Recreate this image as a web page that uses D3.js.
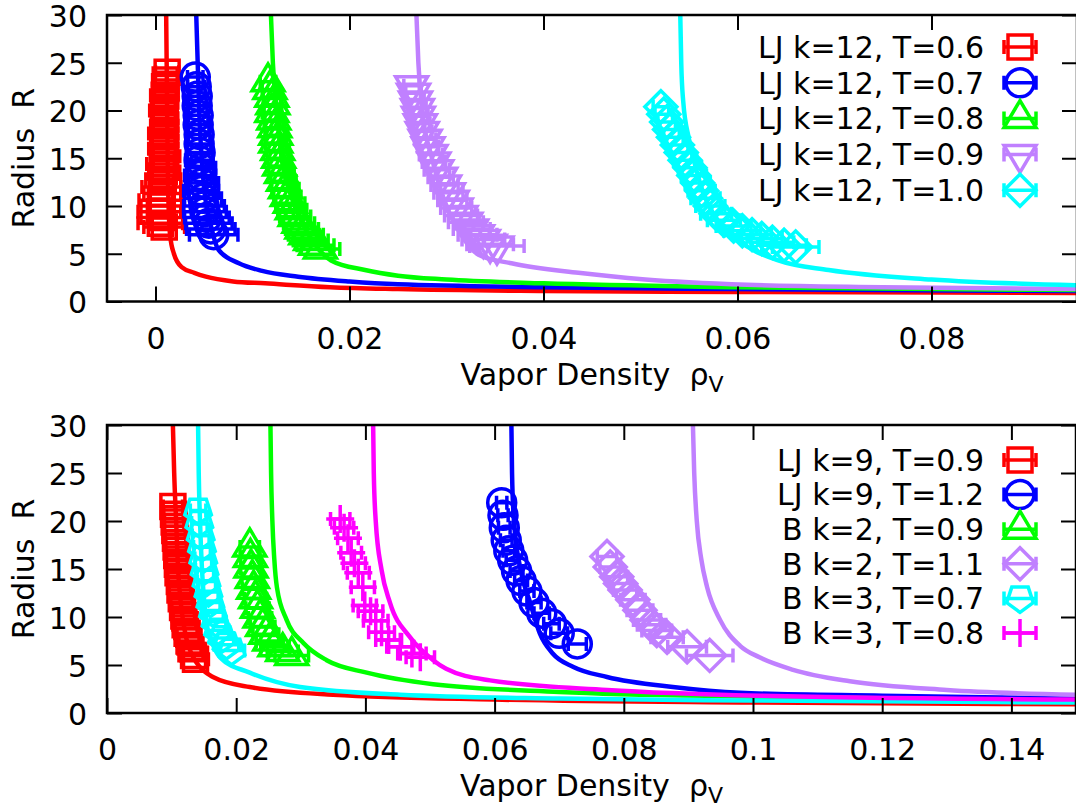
<!DOCTYPE html>
<html>
<head>
<meta charset="utf-8">
<script src="https://cdn.jsdelivr.net/npm/d3@7"></script>
<style>
  body { margin: 0; background: #fff; }
  text { font-family: "DejaVu Sans", sans-serif; }
</style>
</head>
<body>
<div id="chart"></div>
<script>
// ---- top panel data: [rho, R, rho error] ----
const ljk12T06 = [[0.0012,24.0,0.0012],[0.0010,23.2,0.0013],[0.0011,22.4,0.0012],[0.0009,21.6,0.0014],
  [0.0010,20.8,0.0013],[0.0008,20.0,0.0014],[0.0010,19.2,0.0013],[0.0009,18.4,0.0014],[0.0008,17.6,0.0015],
  [0.0009,16.8,0.0014],[0.0008,16.0,0.0015],[0.0010,15.2,0.0015],[0.0007,14.4,0.0016],[0.0009,13.6,0.0016],
  [0.0008,12.8,0.0018],[0.0006,12.0,0.0020],[0.0007,11.3,0.0019],[0.0005,10.6,0.0022],[0.0006,10.0,0.0021],
  [0.0004,9.4,0.0022],[0.0007,8.8,0.0022],[0.0005,8.2,0.0023],[0.0009,7.8,0.0021]];
const ljk12T07 = [[0.0041,23.5,0.0008],[0.0042,22.5,0.0009],[0.0043,21.5,0.0009],[0.0043,20.5,0.0010],
  [0.0044,19.5,0.0010],[0.0044,18.5,0.0011],[0.0045,17.5,0.0011],[0.0045,16.5,0.0012],[0.0046,15.6,0.0013],
  [0.0045,14.8,0.0014],[0.0047,14.0,0.0015],[0.0046,13.2,0.0016],[0.0048,12.4,0.0017],[0.0047,11.6,0.0018],
  [0.0049,10.8,0.0019],[0.0050,10.0,0.0021],[0.0051,9.4,0.0022],[0.0053,8.8,0.0023],[0.0055,8.2,0.0024],
  [0.0057,7.6,0.0025],[0.0060,7.0,0.0025]];
const ljk12T08 = [[0.0116,23.0,0.0008],[0.0118,22.2,0.0008],[0.0120,21.4,0.0009],[0.0121,20.6,0.0009],
  [0.0120,19.8,0.0010],[0.0122,19.0,0.0010],[0.0123,18.2,0.0010],[0.0124,17.4,0.0011],[0.0124,16.6,0.0011],
  [0.0126,15.8,0.0012],[0.0127,15.0,0.0012],[0.0128,14.2,0.0012],[0.0130,13.4,0.0013],[0.0132,12.6,0.0013],
  [0.0134,11.8,0.0014],[0.0136,11.0,0.0014],[0.0139,10.3,0.0015],[0.0141,9.6,0.0015],[0.0144,8.9,0.0016],
  [0.0148,8.2,0.0016],[0.0151,7.6,0.0017],[0.0155,7.0,0.0018],[0.0160,6.4,0.0018],[0.0165,5.9,0.0019],
  [0.0170,5.5,0.0020]];
const ljk12T09 = [[0.0264,22.6,0.0008],[0.0266,21.8,0.0008],[0.0268,21.0,0.0009],[0.0270,20.2,0.0009],
  [0.0271,19.4,0.0010],[0.0273,18.6,0.0010],[0.0275,17.8,0.0010],[0.0278,17.0,0.0011],[0.0281,16.2,0.0011],
  [0.0284,15.4,0.0012],[0.0287,14.6,0.0012],[0.0290,13.8,0.0013],[0.0294,13.0,0.0013],[0.0298,12.2,0.0014],
  [0.0302,11.4,0.0015],[0.0306,10.6,0.0015],[0.0310,9.8,0.0016],[0.0315,9.0,0.0017],[0.0320,8.3,0.0018],
  [0.0326,7.6,0.0019],[0.0332,7.0,0.0020],[0.0338,6.5,0.0022],[0.0345,6.0,0.0024],[0.0352,5.8,0.0028]];
const ljk12T10 = [[0.0521,20.4,0.0008],[0.0524,19.6,0.0009],[0.0527,18.8,0.0009],[0.0530,18.0,0.0010],
  [0.0534,17.2,0.0010],[0.0538,16.4,0.0011],[0.0542,15.6,0.0011],[0.0546,14.8,0.0012],[0.0551,14.0,0.0012],
  [0.0555,13.2,0.0013],[0.0559,12.4,0.0013],[0.0563,11.6,0.0014],[0.0567,10.8,0.0015],[0.0572,10.0,0.0015],
  [0.0578,9.2,0.0016],[0.0586,8.5,0.0017],[0.0596,7.9,0.0018],[0.0605,7.4,0.0019],[0.0615,7.0,0.0020],
  [0.0625,6.6,0.0021],[0.0636,6.2,0.0022],[0.0648,5.9,0.0023],[0.0660,5.7,0.0024]];

// fitted curves: [rho, R]
const ljk12T06Fit = [[0.0011,30],[0.0012,20],[0.0013,12],[0.0015,7],[0.0019,5],[0.0027,3.6],[0.0040,3.0],
  [0.0052,2.6],[0.008,2.1],[0.0113,1.9],[0.018,1.5],[0.025,1.3],[0.04,1.1],[0.06,1.0],[0.095,0.9]];
const ljk12T07Fit = [[0.0042,30],[0.0045,20],[0.0050,12],[0.0057,8],[0.0065,5.4],[0.0086,4.0],[0.011,3.2],
  [0.0147,2.6],[0.020,2.1],[0.025,1.8],[0.04,1.5],[0.06,1.3],[0.095,1.1]];
const ljk12T08Fit = [[0.0119,30],[0.0121,25],[0.0125,20],[0.013,15],[0.014,11],[0.0155,7.5],[0.0168,5.5],
  [0.0181,4.3],[0.0216,3.3],[0.025,2.7],[0.03,2.3],[0.04,1.9],[0.06,1.5],[0.095,1.2]];
const ljk12T09Fit = [[0.0269,30],[0.0271,25],[0.0275,20],[0.0285,15],[0.030,10],[0.0315,7],[0.0333,4.9],
  [0.0367,4.0],[0.0436,3.0],[0.0505,2.3],[0.061,1.75],[0.075,1.5],[0.095,1.3]];
const ljk12T10Fit = [[0.0541,30],[0.0542,25],[0.0544,21],[0.055,17],[0.0557,14],[0.0565,11.3],[0.0577,8.9],
  [0.0601,6.4],[0.0642,4.3],[0.0694,3.3],[0.08,2.3],[0.095,1.7]];

// ---- bottom panel data ----
const ljk9T09 = [[0.0102,21.5,0.0015],[0.0103,20.7,0.0015],[0.0104,19.9,0.0015],[0.0105,19.0,0.0016],
  [0.0106,18.2,0.0016],[0.0107,17.3,0.0016],[0.0108,16.4,0.0016],[0.0109,15.5,0.0017],[0.0110,14.6,0.0017],
  [0.0112,13.7,0.0017],[0.0113,12.8,0.0017],[0.0115,11.9,0.0018],[0.0117,11.0,0.0018],[0.0119,10.1,0.0018],
  [0.0121,9.2,0.0019],[0.0124,8.3,0.0019],[0.0127,7.5,0.0019],[0.0130,6.7,0.0020],[0.0134,6.0,0.0020],
  [0.0137,5.6,0.0020]];
const ljk9T12 = [[0.0611,21.9,0.0008],[0.0613,20.6,0.0008],[0.0615,19.3,0.0009],[0.0618,18.0,0.0009],
  [0.0622,16.9,0.0009],[0.0628,15.9,0.0010],[0.0634,14.8,0.0010],[0.0641,13.8,0.0010],[0.0650,12.7,0.0011],
  [0.0661,11.5,0.0011],[0.0673,10.4,0.0012],[0.0688,9.3,0.0012],[0.0700,8.3,0.0013],[0.0728,7.2,0.0014]];
const bk2T09 = [[0.0221,17.3,0.0015],[0.0222,16.2,0.0015],[0.0223,15.1,0.0016],[0.0225,14.0,0.0016],
  [0.0227,12.9,0.0017],[0.0230,11.9,0.0017],[0.0233,10.9,0.0018],[0.0237,9.9,0.0018],[0.0241,9.0,0.0019],
  [0.0246,8.2,0.0020],[0.0252,7.5,0.0021],[0.0260,6.9,0.0022],[0.0272,6.4,0.0024],[0.0286,6.0,0.0026]];
const bk2T11 = [[0.0774,16.3,0.0015],[0.0779,15.2,0.0016],[0.0789,14.2,0.0017],[0.0795,13.5,0.0017],
  [0.0802,12.8,0.0018],[0.0814,11.8,0.0019],[0.0825,10.7,0.0020],[0.0836,9.7,0.0021],[0.0843,9.2,0.0022],
  [0.0851,8.6,0.0023],[0.0867,7.9,0.0025],[0.0898,6.9,0.0030],[0.0933,6.0,0.0036]];
const bk3T07 = [[0.0141,21.1,0.0012],[0.0143,19.8,0.0012],[0.0145,18.5,0.0013],[0.0147,17.3,0.0013],
  [0.0149,16.1,0.0013],[0.0151,14.9,0.0014],[0.0154,13.7,0.0014],[0.0157,12.6,0.0015],[0.0160,11.5,0.0015],
  [0.0164,10.5,0.0016],[0.0168,9.5,0.0016],[0.0172,8.6,0.0017],[0.0178,7.8,0.0018],[0.0185,7.1,0.0019],
  [0.0193,6.5,0.0020]];
const bk3T08 = [[0.0361,20.2,0.0015],[0.0367,19.3,0.0015],[0.0373,18.2,0.0016],[0.0378,16.7,0.0016],
  [0.0383,15.6,0.0017],[0.0389,14.6,0.0017],[0.0396,13.1,0.0018],[0.0399,11.2,0.0018],[0.0408,10.6,0.0019],
  [0.0416,9.6,0.0019],[0.0425,8.4,0.0020],[0.0436,7.6,0.0020],[0.0454,6.9,0.0021],[0.0472,6.2,0.0022],
  [0.0485,5.8,0.0022]];

const ljk9T09Fit = [[0.0102,30],[0.0104,25],[0.0107,20],[0.011,15],[0.0115,11],[0.0122,8],[0.013,6.3],
  [0.0139,5.2],[0.0164,3.75],[0.0221,2.7],[0.035,1.9],[0.06,1.4],[0.1,1.1],[0.15,0.9]];
const ljk9T12Fit = [[0.0626,30],[0.0627,25],[0.063,20],[0.064,15],[0.0655,11.5],[0.067,8.3],[0.069,6.2],
  [0.0722,4.8],[0.0774,3.75],[0.0876,2.7],[0.098,2.1],[0.12,1.8],[0.15,1.5]];
const bk2T09Fit = [[0.0253,30],[0.0254,25],[0.0256,20],[0.0259,16],[0.0263,13.1],[0.0278,9.7],[0.0304,7.3],
  [0.034,5.5],[0.0402,4.2],[0.0505,3.0],[0.07,2.2],[0.1,1.7],[0.15,1.3]];
const bk2T11Fit = [[0.0907,30],[0.0909,25],[0.0913,20],[0.092,16],[0.0929,13.1],[0.0949,9.7],[0.098,7.0],
  [0.101,5.8],[0.1062,4.5],[0.115,3.3],[0.13,2.4],[0.15,1.9]];
const bk3T07Fit = [[0.0141,30],[0.0142,25],[0.0144,20],[0.0147,15],[0.015,12],[0.0155,9],[0.0163,7.3],
  [0.0175,5.8],[0.0221,4.2],[0.0299,2.7],[0.0454,1.9],[0.07,1.5],[0.1,1.3],[0.15,1.1]];
const bk3T08Fit = [[0.0412,30],[0.0413,25],[0.0416,20],[0.0425,14.9],[0.0438,11.5],[0.0469,7.9],[0.0505,5.5],
  [0.0525,4.6],[0.0593,3.4],[0.0774,2.4],[0.101,1.8],[0.15,1.4]];

const topLabels = ["LJ k=12, T=0.6", "LJ k=12, T=0.7", "LJ k=12, T=0.8", "LJ k=12, T=0.9", "LJ k=12, T=1.0"];
const bottomLabels = ["LJ k=9, T=0.9", "LJ k=9, T=1.2", "B k=2, T=0.9", "B k=2, T=1.1", "B k=3, T=0.7", "B k=3, T=0.8"];
const topTicks = [0, 0.02, 0.04, 0.06, 0.08];
const bottomTicks = [0, 0.02, 0.04, 0.06, 0.08, 0.1, 0.12, 0.14];
const yTicks = [0, 5, 10, 15, 20, 25, 30];

// gnuplot-ish open point shapes
const shapes = {
  square: "M-12,-12H12V12H-12Z",
  circle: "M-14,0A14,14 0 1,0 14,0A14,14 0 1,0 -14,0Z",
  triUp: "M0,-18L16,9L-16,9Z",
  triDown: "M0,18L16,-9L-16,-9Z",
  diamond: "M0,-16L16,0L0,16L-16,0Z",
  pentagon: "M0,14L13.3,4.3L8.2,-11.3L-8.2,-11.3L-13.3,4.3Z",
  plus: "M-14,0H14M0,-14V14"
};

const svg = d3.select("#chart").append("svg")
    .attr("width", 1076)
    .attr("height", 807);

function errPath(x0, x1, yy) {
  return `M${x0},${yy}H${x1}M${x0},${yy - 7}V${yy + 7}M${x1},${yy - 7}V${yy + 7}`;
}

function drawPanel(p)
{
  const x = d3.scaleLinear().domain(p.xDomain).range([p.left, p.right]);
  const y = d3.scaleLinear().domain([0, 30]).range([p.bottom, p.top]);

  svg.append("clipPath").attr("id", p.id)
    .append("rect")
      .attr("x", p.left).attr("y", p.top)
      .attr("width", p.right - p.left).attr("height", p.bottom - p.top);

  const plot = svg.append("g").attr("clip-path", `url(#${p.id})`);

  // points with x error bars, then the fitted curve
  p.series.forEach(s => {
    plot.append("g").selectAll("path")
      .data(s.points)
      .join("path")
        .attr("d", d => errPath(x(d[0] - d[2]), x(d[0] + d[2]), y(d[1])))
        .attr("fill", "none")
        .attr("stroke", s.color)
        .attr("stroke-width", 3.5);

    plot.append("g").selectAll("path")
      .data(s.points)
      .join("path")
        .attr("transform", d => `translate(${x(d[0])},${y(d[1])})`)
        .attr("d", shapes[s.shape])
        .attr("fill", "none")
        .attr("stroke", s.color)
        .attr("stroke-width", 3.5);

    plot.append("path")
      .datum(s.fit)
      .attr("d", d3.line().x(d => x(d[0])).y(d => y(d[1])).curve(d3.curveMonotoneX))
      .attr("fill", "none")
      .attr("stroke", s.color)
      .attr("stroke-width", 4.5);
  });

  // axes, ticks point inward on all four sides
  const styleAxis = g => {
    g.select(".domain").remove();
    g.selectAll(".tick line").attr("stroke", "black").attr("stroke-width", 2);
    g.selectAll("text").attr("font-size", 30).attr("fill", "black")
      .attr("font-family", "'DejaVu Sans', sans-serif");
  };

  svg.append("g")
      .attr("transform", `translate(0,${p.bottom})`)
      .call(d3.axisBottom(x).tickValues(p.xTicks).tickFormat(d3.format("~g"))
        .tickSizeInner(-15).tickSizeOuter(0).tickPadding(26))
      .call(styleAxis);
  svg.append("g")
      .attr("transform", `translate(0,${p.top})`)
      .call(d3.axisTop(x).tickValues(p.xTicks).tickFormat("").tickSizeInner(-15).tickSizeOuter(0))
      .call(styleAxis);
  svg.append("g")
      .attr("transform", `translate(${p.left},0)`)
      .call(d3.axisLeft(y).tickValues(yTicks).tickSizeInner(-15).tickSizeOuter(0).tickPadding(20))
      .call(styleAxis)
      .call(g => g.selectAll("text").attr("dy", "0.38em"));
  svg.append("g")
      .attr("transform", `translate(${p.right},0)`)
      .call(d3.axisRight(y).tickValues(yTicks).tickFormat("").tickSizeInner(-15).tickSizeOuter(0))
      .call(styleAxis);

  svg.append("rect")
      .attr("x", p.left).attr("y", p.top)
      .attr("width", p.right - p.left).attr("height", p.bottom - p.top)
      .attr("fill", "none")
      .attr("stroke", "black")
      .attr("stroke-width", 2.5);

  // axis titles
  const xt = svg.append("text")
      .attr("x", (p.left + p.right) / 2)
      .attr("y", p.bottom + 83)
      .attr("text-anchor", "middle")
      .attr("font-size", 30)
      .style("white-space", "pre");
  xt.append("tspan").text("Vapor Density  ρ");
  xt.append("tspan").attr("dy", 7).attr("font-size", 22).text("V");

  svg.append("text")
      .attr("transform", `translate(34,${(p.top + p.bottom) / 2}) rotate(-90)`)
      .attr("text-anchor", "middle")
      .attr("font-size", 30)
      .style("white-space", "pre")
      .text("Radius  R");

  // key
  const key = svg.append("g").selectAll("g")
    .data(p.series)
    .join("g")
      .attr("transform", (d, i) => `translate(0,${p.keyY + i * p.keyStep})`);

  key.append("text")
      .attr("x", 984)
      .attr("dy", "0.36em")
      .attr("text-anchor", "end")
      .attr("font-size", 30)
      .text(d => d.label);

  key.append("path")
      .attr("d", errPath(1004, 1036, 0))
      .attr("fill", "none")
      .attr("stroke", d => d.color)
      .attr("stroke-width", 3.5);

  key.append("path")
      .attr("transform", "translate(1020,0)")
      .attr("d", d => shapes[d.shape])
      .attr("fill", "none")
      .attr("stroke", d => d.color)
      .attr("stroke-width", 3.5);
}

drawPanel({
  id: "clipTop", left: 107, right: 1077, top: 15, bottom: 301.5,
  xDomain: [-0.005, 0.095], xTicks: topTicks, keyY: 47, keyStep: 35.8,
  series: [
    {label: topLabels[0], color: "#ff0000", shape: "square", points: ljk12T06, fit: ljk12T06Fit},
    {label: topLabels[1], color: "#0000ff", shape: "circle", points: ljk12T07, fit: ljk12T07Fit},
    {label: topLabels[2], color: "#00ff00", shape: "triUp", points: ljk12T08, fit: ljk12T08Fit},
    {label: topLabels[3], color: "#c080ff", shape: "triDown", points: ljk12T09, fit: ljk12T09Fit},
    {label: topLabels[4], color: "#00ffff", shape: "diamond", points: ljk12T10, fit: ljk12T10Fit}
  ]
});

drawPanel({
  id: "clipBottom", left: 107, right: 1076, top: 425, bottom: 713,
  xDomain: [0, 0.15], xTicks: bottomTicks, keyY: 460, keyStep: 34.6,
  series: [
    {label: bottomLabels[0], color: "#ff0000", shape: "square", points: ljk9T09, fit: ljk9T09Fit},
    {label: bottomLabels[1], color: "#0000ff", shape: "circle", points: ljk9T12, fit: ljk9T12Fit},
    {label: bottomLabels[2], color: "#00ff00", shape: "triUp", points: bk2T09, fit: bk2T09Fit},
    {label: bottomLabels[3], color: "#c080ff", shape: "diamond", points: bk2T11, fit: bk2T11Fit},
    {label: bottomLabels[4], color: "#00ffff", shape: "pentagon", points: bk3T07, fit: bk3T07Fit},
    {label: bottomLabels[5], color: "#ff00ff", shape: "plus", points: bk3T08, fit: bk3T08Fit}
  ]
});
</script>
</body>
</html>
